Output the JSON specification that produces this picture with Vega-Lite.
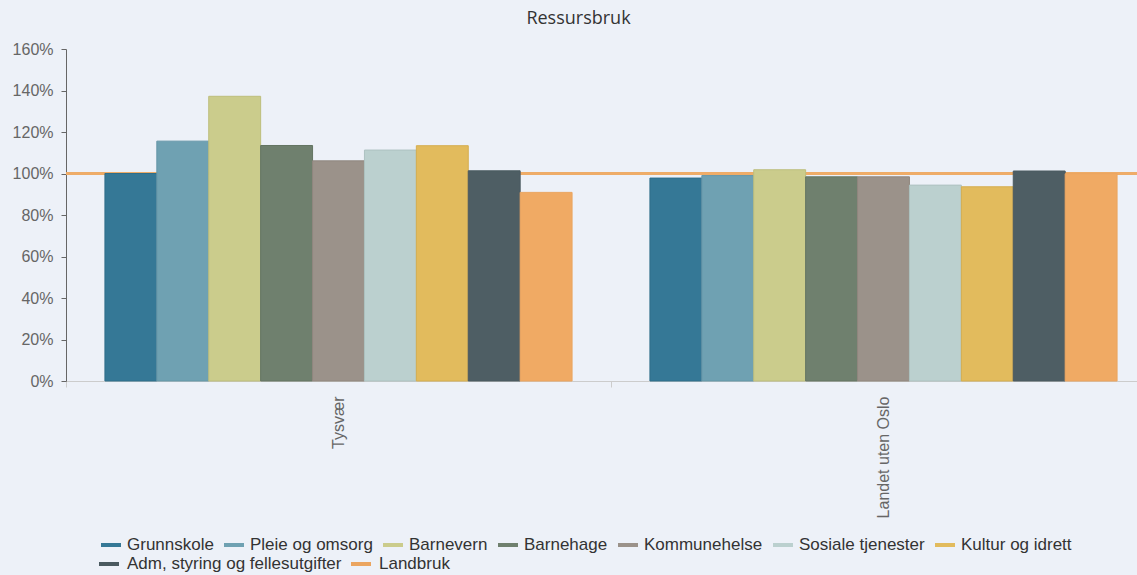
{
  "$schema": "https://vega.github.io/schema/vega-lite/v6.json",
  "autosize": {"type": "none"},
  "width": 1071,
  "height": 332,
  "padding": {"left": 66, "top": 49, "right": 0, "bottom": 194},
  "background": "#EDF1F8",
  "title": {"text": "Ressursbruk", "font": "Open Sans", "fontSize": 18, "fontWeight": "normal", "color": "#333333", "anchor": "middle", "dx": -23, "offset": -1, "baseline": "alphabetic"},
  "data": {"values": [
    {"region": "Tysvær", "tjeneste": "Grunnskole", "verdi": 100.0},
    {"region": "Tysvær", "tjeneste": "Pleie og omsorg", "verdi": 115.6},
    {"region": "Tysvær", "tjeneste": "Barnevern", "verdi": 137.2},
    {"region": "Tysvær", "tjeneste": "Barnehage", "verdi": 113.5},
    {"region": "Tysvær", "tjeneste": "Kommunehelse", "verdi": 106.1},
    {"region": "Tysvær", "tjeneste": "Sosiale tjenester", "verdi": 111.3},
    {"region": "Tysvær", "tjeneste": "Kultur og idrett", "verdi": 113.4},
    {"region": "Tysvær", "tjeneste": "Adm, styring og fellesutgifter", "verdi": 101.3},
    {"region": "Tysvær", "tjeneste": "Landbruk", "verdi": 90.9},
    {"region": "Landet uten Oslo", "tjeneste": "Grunnskole", "verdi": 97.8},
    {"region": "Landet uten Oslo", "tjeneste": "Pleie og omsorg", "verdi": 99.0},
    {"region": "Landet uten Oslo", "tjeneste": "Barnevern", "verdi": 101.8},
    {"region": "Landet uten Oslo", "tjeneste": "Barnehage", "verdi": 98.4},
    {"region": "Landet uten Oslo", "tjeneste": "Kommunehelse", "verdi": 98.4},
    {"region": "Landet uten Oslo", "tjeneste": "Sosiale tjenester", "verdi": 94.4},
    {"region": "Landet uten Oslo", "tjeneste": "Kultur og idrett", "verdi": 93.6},
    {"region": "Landet uten Oslo", "tjeneste": "Adm, styring og fellesutgifter", "verdi": 101.2},
    {"region": "Landet uten Oslo", "tjeneste": "Landbruk", "verdi": 99.9}
  ]},
  "layer": [
    {
      "mark": {"type": "rule", "color": "#F0AC68", "strokeWidth": 1.5},
      "encoding": {"y": {"datum": 100, "type": "quantitative"}}
    },
    {
      "mark": {"type": "bar", "strokeWidth": 1, "opacity": 1},
      "encoding": {
        "x": {
          "field": "region", "type": "nominal", "sort": null,
          "scale": {"paddingInner": 0, "paddingOuter": 0, "range": [0, 1090]},
          "axis": {"title": null, "labelAngle": -90, "labelFont": "Liberation Sans", "labelFontSize": 16, "labelColor": "#666666", "labelPadding": 9, "domainColor": "#CCCCCC", "tickBand": "extent", "ticks": true, "tickColor": "#CCCCCC", "tickSize": 6, "grid": false}
        },
        "xOffset": {
          "field": "tjeneste", "type": "nominal", "sort": null,
          "scale": {"paddingInner": 0, "paddingOuter": 0.75}
        },
        "y": {
          "field": "verdi", "type": "quantitative",
          "scale": {"domain": [0, 160], "nice": false},
          "axis": {"title": null, "values": [0, 20, 40, 60, 80, 100, 120, 140, 160], "labelExpr": "datum.value + '%'", "labelFont": "Liberation Sans", "labelFontSize": 16, "labelColor": "#666666", "labelPadding": 8, "domainColor": "#666666", "tickColor": "#666666", "tickSize": 5, "gridColor": "#DFE1E4", "gridWidth": 1}
        },
        "fill": {
          "field": "tjeneste", "type": "nominal",
          "scale": {
            "domain": ["Grunnskole", "Pleie og omsorg", "Barnevern", "Barnehage", "Kommunehelse", "Sosiale tjenester", "Kultur og idrett", "Adm, styring og fellesutgifter", "Landbruk"],
            "range": ["#357896", "#6FA1B2", "#CBCC8C", "#6F806E", "#9B928A", "#BBD0CF", "#E2BB5D", "#4E5E64", "#F0AA64"]
          },
          "legend": {"orient": "none", "legendX": 35, "legendY": 486, "direction": "horizontal", "columns": 7, "values": ["Grunnskole", "Pleie og omsorg", "Barnevern", "Barnehage", "Kommunehelse", "Sosiale tjenester", "Kultur og idrett"], "title": null, "symbolType": "M-1,-0.2H1V0.2H-1Z", "symbolSize": 400, "symbolStrokeWidth": 0, "labelFont": "Liberation Sans", "labelFontSize": 17, "labelColor": "#333333", "labelLimit": 0, "columnPadding": 10, "labelOffset": 6}
        },
        "stroke": {
          "field": "tjeneste", "type": "nominal",
          "scale": {
            "domain": ["Adm, styring og fellesutgifter", "Landbruk", "Grunnskole", "Pleie og omsorg", "Barnevern", "Barnehage", "Kommunehelse", "Sosiale tjenester", "Kultur og idrett"],
            "range": ["#4B5A60", "#EBA560", "#2F6E8A", "#6596A7", "#BDBE7C", "#647563", "#90877F", "#ADC2C1", "#D5AE50"]
          },
          "legend": {"orient": "none", "legendX": 31, "legendY": 503, "direction": "horizontal", "columns": 2, "values": ["Adm, styring og fellesutgifter", "Landbruk"], "title": null, "symbolType": "M-1,0H1", "symbolSize": 400, "symbolStrokeWidth": 4, "symbolFillColor": "transparent", "labelFont": "Liberation Sans", "labelFontSize": 17, "labelColor": "#333333", "labelLimit": 0, "columnPadding": 1, "labelOffset": 6}
        }
      }
    }
  ],
  "config": {"view": {"stroke": null}}
}
